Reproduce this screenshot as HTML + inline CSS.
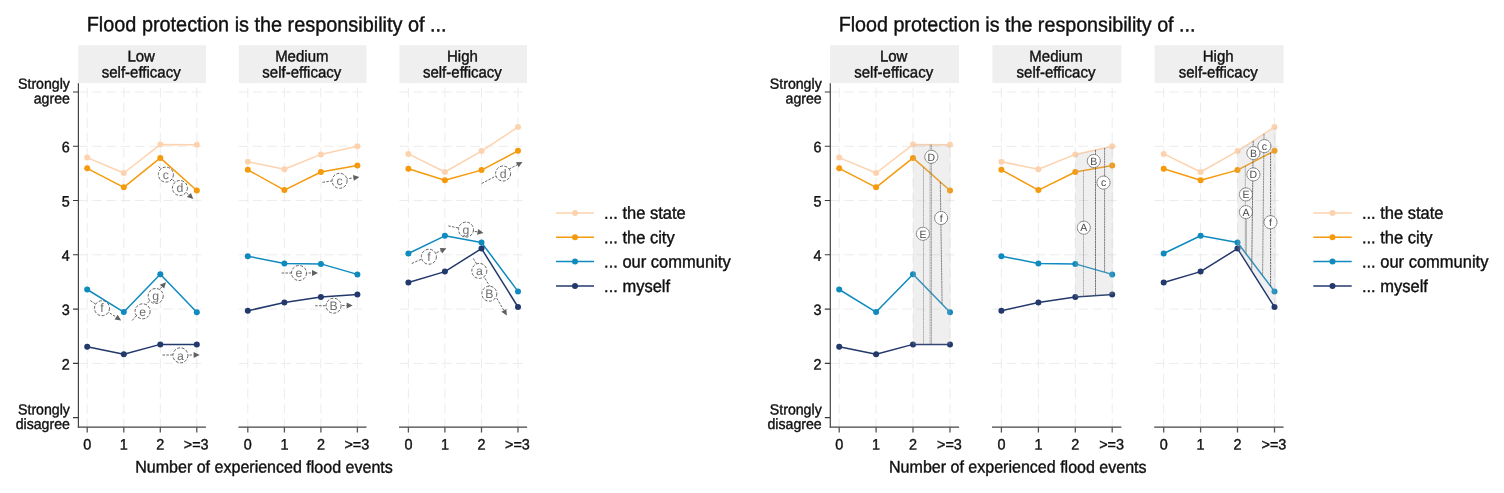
<!DOCTYPE html>
<html lang="en"><head><meta charset="utf-8"><title>Flood protection is the responsibility of ...</title>
<style>html,body{margin:0;padding:0;background:#fff}svg{display:block;font-family:'Liberation Sans', sans-serif}text{text-rendering:geometricPrecision}.c text{stroke:#101010;stroke-width:0.38px}</style>
</head><body>
<svg width="1504" height="493" viewBox="0 0 1504 493">
<rect width="1504" height="493" fill="#fff"/>
<g id="left">
<g class="c">
<text transform="translate(86.7 31.3) rotate(0.03) scale(1 1.05)" font-size="19.88" fill="#101010">Flood protection is the responsibility of ...</text>
<rect x="78.2" y="45.2" width="127.7" height="37.9" fill="#efefef"/>
<text transform="translate(141.2 61.6) rotate(0.03) scale(1 1.05)" font-size="15" text-anchor="middle" fill="#101010">Low</text>
<text transform="translate(141.2 77.6) rotate(0.03) scale(1 1.05)" font-size="15" text-anchor="middle" fill="#101010">self-efficacy</text>
<path d="M78.2 363.4H203.9M78.2 309.1H203.9M78.2 254.8H203.9M78.2 200.5H203.9M78.2 146.3H203.9M78.2 92.0H203.9" stroke="#ececec" stroke-width="1" stroke-dasharray="9.60 4.60" fill="none"/>
<path d="M87.2 87.5V427M123.8 87.5V427M160.3 87.5V427M196.8 87.5V427" stroke="#ececec" stroke-width="1" stroke-dasharray="10 5.05" fill="none"/>
<path d="M77.8 427.1H205.9" stroke="#444" stroke-width="1.2" fill="none"/>
<path d="M87.2 427V432.5M123.8 427V432.5M160.3 427V432.5M196.8 427V432.5" stroke="#555" stroke-width="1.3" fill="none"/>
<text transform="translate(87.2 449.4) rotate(0.03) scale(1 1.05)" font-size="14.4" text-anchor="middle" fill="#101010">0</text>
<text transform="translate(123.8 449.4) rotate(0.03) scale(1 1.05)" font-size="14.4" text-anchor="middle" fill="#101010">1</text>
<text transform="translate(160.3 449.4) rotate(0.03) scale(1 1.05)" font-size="14.4" text-anchor="middle" fill="#101010">2</text>
<text transform="translate(196.2 449.4) rotate(0.03) scale(1 1.05)" font-size="14.4" text-anchor="middle" fill="#101010">&gt;=3</text>
<rect x="238.8" y="45.2" width="127.7" height="37.9" fill="#efefef"/>
<text transform="translate(301.8 61.6) rotate(0.03) scale(1 1.05)" font-size="15" text-anchor="middle" fill="#101010">Medium</text>
<text transform="translate(301.8 77.6) rotate(0.03) scale(1 1.05)" font-size="15" text-anchor="middle" fill="#101010">self-efficacy</text>
<path d="M238.8 363.4H364.5M238.8 309.1H364.5M238.8 254.8H364.5M238.8 200.5H364.5M238.8 146.3H364.5M238.8 92.0H364.5" stroke="#ececec" stroke-width="1" stroke-dasharray="9.60 4.60" fill="none"/>
<path d="M247.8 87.5V427M284.4 87.5V427M320.9 87.5V427M357.4 87.5V427" stroke="#ececec" stroke-width="1" stroke-dasharray="10 5.05" fill="none"/>
<path d="M238.4 427.1H366.5" stroke="#444" stroke-width="1.2" fill="none"/>
<path d="M247.8 427V432.5M284.4 427V432.5M320.9 427V432.5M357.4 427V432.5" stroke="#555" stroke-width="1.3" fill="none"/>
<text transform="translate(247.8 449.4) rotate(0.03) scale(1 1.05)" font-size="14.4" text-anchor="middle" fill="#101010">0</text>
<text transform="translate(284.4 449.4) rotate(0.03) scale(1 1.05)" font-size="14.4" text-anchor="middle" fill="#101010">1</text>
<text transform="translate(320.9 449.4) rotate(0.03) scale(1 1.05)" font-size="14.4" text-anchor="middle" fill="#101010">2</text>
<text transform="translate(356.8 449.4) rotate(0.03) scale(1 1.05)" font-size="14.4" text-anchor="middle" fill="#101010">&gt;=3</text>
<rect x="399.4" y="45.2" width="127.7" height="37.9" fill="#efefef"/>
<text transform="translate(462.4 61.6) rotate(0.03) scale(1 1.05)" font-size="15" text-anchor="middle" fill="#101010">High</text>
<text transform="translate(462.4 77.6) rotate(0.03) scale(1 1.05)" font-size="15" text-anchor="middle" fill="#101010">self-efficacy</text>
<path d="M399.4 363.4H525.1M399.4 309.1H525.1M399.4 254.8H525.1M399.4 200.5H525.1M399.4 146.3H525.1M399.4 92.0H525.1" stroke="#ececec" stroke-width="1" stroke-dasharray="9.60 4.60" fill="none"/>
<path d="M408.4 87.5V427M444.9 87.5V427M481.5 87.5V427M518.0 87.5V427" stroke="#ececec" stroke-width="1" stroke-dasharray="10 5.05" fill="none"/>
<path d="M399.0 427.1H527.1" stroke="#444" stroke-width="1.2" fill="none"/>
<path d="M408.4 427V432.5M444.9 427V432.5M481.5 427V432.5M518.0 427V432.5" stroke="#555" stroke-width="1.3" fill="none"/>
<text transform="translate(408.4 449.4) rotate(0.03) scale(1 1.05)" font-size="14.4" text-anchor="middle" fill="#101010">0</text>
<text transform="translate(444.9 449.4) rotate(0.03) scale(1 1.05)" font-size="14.4" text-anchor="middle" fill="#101010">1</text>
<text transform="translate(481.5 449.4) rotate(0.03) scale(1 1.05)" font-size="14.4" text-anchor="middle" fill="#101010">2</text>
<text transform="translate(517.4 449.4) rotate(0.03) scale(1 1.05)" font-size="14.4" text-anchor="middle" fill="#101010">&gt;=3</text>
<path d="M78.4 83.2V427.4" stroke="#444" stroke-width="1.2" fill="none"/>
<path d="M73.0 417.6H78.3M73.0 363.4H78.3M73.0 309.1H78.3M73.0 254.8H78.3M73.0 200.5H78.3M73.0 146.3H78.3M73.0 92.0H78.3" stroke="#3a3a3a" stroke-width="1.1" fill="none"/>
<text transform="translate(69.8 369.4) rotate(0.03) scale(1 1.05)" font-size="14.4" text-anchor="end" fill="#101010">2</text>
<text transform="translate(69.8 315.1) rotate(0.03) scale(1 1.05)" font-size="14.4" text-anchor="end" fill="#101010">3</text>
<text transform="translate(69.8 260.8) rotate(0.03) scale(1 1.05)" font-size="14.4" text-anchor="end" fill="#101010">4</text>
<text transform="translate(69.8 206.5) rotate(0.03) scale(1 1.05)" font-size="14.4" text-anchor="end" fill="#101010">5</text>
<text transform="translate(69.8 152.3) rotate(0.03) scale(1 1.05)" font-size="14.4" text-anchor="end" fill="#101010">6</text>
<text transform="translate(69.9 88.7) rotate(0.03) scale(1 1.05)" font-size="14.15" text-anchor="end" fill="#101010">Strongly</text>
<text transform="translate(69.9 103.4) rotate(0.03) scale(1 1.05)" font-size="14.15" text-anchor="end" fill="#101010">agree</text>
<text transform="translate(69.9 414.6) rotate(0.03) scale(1 1.05)" font-size="14.15" text-anchor="end" fill="#101010">Strongly</text>
<text transform="translate(69.9 429.0) rotate(0.03) scale(1 1.05)" font-size="14.15" text-anchor="end" fill="#101010">disagree</text>
<text transform="translate(264.0 472.6) rotate(0.03) scale(1 1.05)" font-size="16.05" text-anchor="middle" fill="#101010">Number of experienced flood events</text>
<path d="M87.2 157.6L123.8 173.0L160.3 144.6L196.8 144.8" stroke="#fdd3af" stroke-width="1.5" fill="none" stroke-linejoin="round"/>
<circle cx="87.2" cy="157.6" r="3.0" fill="#fdd3af"/>
<circle cx="123.8" cy="173.0" r="3.0" fill="#fdd3af"/>
<circle cx="160.3" cy="144.6" r="3.0" fill="#fdd3af"/>
<circle cx="196.8" cy="144.8" r="3.0" fill="#fdd3af"/>
<path d="M87.2 168.3L123.8 187.3L160.3 157.9L196.8 190.5" stroke="#f59a0c" stroke-width="1.5" fill="none" stroke-linejoin="round"/>
<circle cx="87.2" cy="168.3" r="3.0" fill="#f59a0c"/>
<circle cx="123.8" cy="187.3" r="3.0" fill="#f59a0c"/>
<circle cx="160.3" cy="157.9" r="3.0" fill="#f59a0c"/>
<circle cx="196.8" cy="190.5" r="3.0" fill="#f59a0c"/>
<path d="M87.2 289.5L123.8 312.1L160.3 274.3L196.8 312.3" stroke="#0f8abf" stroke-width="1.5" fill="none" stroke-linejoin="round"/>
<circle cx="87.2" cy="289.5" r="3.0" fill="#0f8abf"/>
<circle cx="123.8" cy="312.1" r="3.0" fill="#0f8abf"/>
<circle cx="160.3" cy="274.3" r="3.0" fill="#0f8abf"/>
<circle cx="196.8" cy="312.3" r="3.0" fill="#0f8abf"/>
<path d="M87.2 346.7L123.8 354.3L160.3 344.4L196.8 344.4" stroke="#23386b" stroke-width="1.5" fill="none" stroke-linejoin="round"/>
<circle cx="87.2" cy="346.7" r="3.0" fill="#23386b"/>
<circle cx="123.8" cy="354.3" r="3.0" fill="#23386b"/>
<circle cx="160.3" cy="344.4" r="3.0" fill="#23386b"/>
<circle cx="196.8" cy="344.4" r="3.0" fill="#23386b"/>
<path d="M247.8 161.7L284.4 169.3L320.9 154.4L357.4 146.2" stroke="#fdd3af" stroke-width="1.5" fill="none" stroke-linejoin="round"/>
<circle cx="247.8" cy="161.7" r="3.0" fill="#fdd3af"/>
<circle cx="284.4" cy="169.3" r="3.0" fill="#fdd3af"/>
<circle cx="320.9" cy="154.4" r="3.0" fill="#fdd3af"/>
<circle cx="357.4" cy="146.2" r="3.0" fill="#fdd3af"/>
<path d="M247.8 169.8L284.4 190.1L320.9 172.0L357.4 165.4" stroke="#f59a0c" stroke-width="1.5" fill="none" stroke-linejoin="round"/>
<circle cx="247.8" cy="169.8" r="3.0" fill="#f59a0c"/>
<circle cx="284.4" cy="190.1" r="3.0" fill="#f59a0c"/>
<circle cx="320.9" cy="172.0" r="3.0" fill="#f59a0c"/>
<circle cx="357.4" cy="165.4" r="3.0" fill="#f59a0c"/>
<path d="M247.8 256.2L284.4 263.5L320.9 263.9L357.4 274.4" stroke="#0f8abf" stroke-width="1.5" fill="none" stroke-linejoin="round"/>
<circle cx="247.8" cy="256.2" r="3.0" fill="#0f8abf"/>
<circle cx="284.4" cy="263.5" r="3.0" fill="#0f8abf"/>
<circle cx="320.9" cy="263.9" r="3.0" fill="#0f8abf"/>
<circle cx="357.4" cy="274.4" r="3.0" fill="#0f8abf"/>
<path d="M247.8 310.8L284.4 302.5L320.9 297.0L357.4 294.5" stroke="#23386b" stroke-width="1.5" fill="none" stroke-linejoin="round"/>
<circle cx="247.8" cy="310.8" r="3.0" fill="#23386b"/>
<circle cx="284.4" cy="302.5" r="3.0" fill="#23386b"/>
<circle cx="320.9" cy="297.0" r="3.0" fill="#23386b"/>
<circle cx="357.4" cy="294.5" r="3.0" fill="#23386b"/>
<path d="M408.4 153.9L444.9 172.0L481.5 151.1L518.0 127.1" stroke="#fdd3af" stroke-width="1.5" fill="none" stroke-linejoin="round"/>
<circle cx="408.4" cy="153.9" r="3.0" fill="#fdd3af"/>
<circle cx="444.9" cy="172.0" r="3.0" fill="#fdd3af"/>
<circle cx="481.5" cy="151.1" r="3.0" fill="#fdd3af"/>
<circle cx="518.0" cy="127.1" r="3.0" fill="#fdd3af"/>
<path d="M408.4 168.7L444.9 180.3L481.5 170.1L518.0 150.8" stroke="#f59a0c" stroke-width="1.5" fill="none" stroke-linejoin="round"/>
<circle cx="408.4" cy="168.7" r="3.0" fill="#f59a0c"/>
<circle cx="444.9" cy="180.3" r="3.0" fill="#f59a0c"/>
<circle cx="481.5" cy="170.1" r="3.0" fill="#f59a0c"/>
<circle cx="518.0" cy="150.8" r="3.0" fill="#f59a0c"/>
<path d="M408.4 253.5L444.9 235.8L481.5 242.5L518.0 291.4" stroke="#0f8abf" stroke-width="1.5" fill="none" stroke-linejoin="round"/>
<circle cx="408.4" cy="253.5" r="3.0" fill="#0f8abf"/>
<circle cx="444.9" cy="235.8" r="3.0" fill="#0f8abf"/>
<circle cx="481.5" cy="242.5" r="3.0" fill="#0f8abf"/>
<circle cx="518.0" cy="291.4" r="3.0" fill="#0f8abf"/>
<path d="M408.4 282.5L444.9 271.6L481.5 248.6L518.0 307.0" stroke="#23386b" stroke-width="1.5" fill="none" stroke-linejoin="round"/>
<circle cx="408.4" cy="282.5" r="3.0" fill="#23386b"/>
<circle cx="444.9" cy="271.6" r="3.0" fill="#23386b"/>
<circle cx="481.5" cy="248.6" r="3.0" fill="#23386b"/>
<circle cx="518.0" cy="307.0" r="3.0" fill="#23386b"/>
<path d="M556.0 212.9H594.0" stroke="#fdd3af" stroke-width="1.5"/>
<circle cx="575.0" cy="212.9" r="3.0" fill="#fdd3af"/>
<text transform="translate(604.1 218.8) rotate(0.03) scale(1 1.05)" font-size="16.5" fill="#101010">... the state</text>
<path d="M556.0 237.2H594.0" stroke="#f59a0c" stroke-width="1.5"/>
<circle cx="575.0" cy="237.2" r="3.0" fill="#f59a0c"/>
<text transform="translate(604.1 243.2) rotate(0.03) scale(1 1.05)" font-size="16.5" fill="#101010">... the city</text>
<path d="M556.0 261.6H594.0" stroke="#0f8abf" stroke-width="1.5"/>
<circle cx="575.0" cy="261.6" r="3.0" fill="#0f8abf"/>
<text transform="translate(604.1 267.5) rotate(0.03) scale(1 1.05)" font-size="16.5" fill="#101010">... our community</text>
<path d="M556.0 286.0H594.0" stroke="#23386b" stroke-width="1.5"/>
<circle cx="575.0" cy="286.0" r="3.0" fill="#23386b"/>
<text transform="translate(604.1 291.9) rotate(0.03) scale(1 1.05)" font-size="16.5" fill="#101010">... myself</text>
</g>
<path d="M158.5 166.5L188.9 195.0" stroke="#555" stroke-width="0.9" stroke-dasharray="2.5 1.35" fill="none"/>
<path d="M193.3 199.1L186.9 197.1L190.9 192.9Z" fill="#606060"/>
<circle cx="165.9" cy="174.6" r="7.5" fill="#fff" stroke="#626262" stroke-width="1" stroke-dasharray="3 1.55"/>
<text x="165.9" y="178.8" font-size="12.3" text-anchor="middle" fill="#707070">c</text>
<circle cx="179.9" cy="188.0" r="7.5" fill="#fff" stroke="#626262" stroke-width="1" stroke-dasharray="3 1.55"/>
<text x="179.9" y="192.2" font-size="12.3" text-anchor="middle" fill="#707070">d</text>
<path d="M90.3 300.6L116.1 317.1" stroke="#555" stroke-width="0.9" stroke-dasharray="2.5 1.35" fill="none"/>
<path d="M121.2 320.4L114.6 319.6L117.7 314.7Z" fill="#606060"/>
<circle cx="102.0" cy="308.2" r="7.5" fill="#fff" stroke="#626262" stroke-width="1" stroke-dasharray="3 1.55"/>
<text x="102.0" y="312.4" font-size="12.3" text-anchor="middle" fill="#707070">f</text>
<path d="M132.2 320.5L162.0 286.7" stroke="#555" stroke-width="0.9" stroke-dasharray="2.5 1.35" fill="none"/>
<path d="M166.0 282.2L164.2 288.6L159.8 284.8Z" fill="#606060"/>
<circle cx="142.6" cy="311.3" r="7.5" fill="#fff" stroke="#626262" stroke-width="1" stroke-dasharray="3 1.55"/>
<text x="142.6" y="315.5" font-size="12.3" text-anchor="middle" fill="#707070">e</text>
<circle cx="155.7" cy="296.0" r="7.5" fill="#fff" stroke="#626262" stroke-width="1" stroke-dasharray="3 1.55"/>
<text x="155.7" y="300.2" font-size="12.3" text-anchor="middle" fill="#707070">g</text>
<path d="M162.5 355.0L193.7 355.0" stroke="#555" stroke-width="0.9" stroke-dasharray="2.5 1.35" fill="none"/>
<path d="M199.7 355.0L193.7 357.9L193.7 352.1Z" fill="#606060"/>
<circle cx="180.4" cy="355.3" r="7.5" fill="#fff" stroke="#626262" stroke-width="1" stroke-dasharray="3 1.55"/>
<text x="180.4" y="359.5" font-size="12.3" text-anchor="middle" fill="#707070">a</text>
<path d="M322.5 182.3L353.5 177.9" stroke="#555" stroke-width="0.9" stroke-dasharray="2.5 1.35" fill="none"/>
<path d="M359.4 177.0L353.9 180.7L353.0 175.0Z" fill="#606060"/>
<circle cx="339.6" cy="180.8" r="7.5" fill="#fff" stroke="#626262" stroke-width="1" stroke-dasharray="3 1.55"/>
<text x="339.6" y="185.0" font-size="12.3" text-anchor="middle" fill="#707070">c</text>
<path d="M281.6 273.0L312.0 273.0" stroke="#555" stroke-width="0.9" stroke-dasharray="2.5 1.35" fill="none"/>
<path d="M318.0 273.0L312.0 275.9L312.0 270.1Z" fill="#606060"/>
<circle cx="299.0" cy="273.0" r="7.5" fill="#fff" stroke="#626262" stroke-width="1" stroke-dasharray="3 1.55"/>
<text x="299.0" y="277.2" font-size="12.3" text-anchor="middle" fill="#707070">e</text>
<path d="M315.2 305.8L346.7 305.5" stroke="#555" stroke-width="0.9" stroke-dasharray="2.5 1.35" fill="none"/>
<path d="M352.7 305.4L346.7 308.4L346.7 302.6Z" fill="#606060"/>
<circle cx="333.6" cy="305.7" r="7.5" fill="#fff" stroke="#626262" stroke-width="1" stroke-dasharray="3 1.55"/>
<text x="333.6" y="309.9" font-size="12.3" text-anchor="middle" fill="#707070">B</text>
<path d="M481.7 183.5L517.2 164.8" stroke="#555" stroke-width="0.9" stroke-dasharray="2.5 1.35" fill="none"/>
<path d="M522.5 162.0L518.6 167.3L515.9 162.2Z" fill="#606060"/>
<circle cx="503.1" cy="173.5" r="7.5" fill="#fff" stroke="#626262" stroke-width="1" stroke-dasharray="3 1.55"/>
<text x="503.1" y="177.7" font-size="12.3" text-anchor="middle" fill="#707070">d</text>
<path d="M448.3 225.9L477.6 231.9" stroke="#555" stroke-width="0.9" stroke-dasharray="2.5 1.35" fill="none"/>
<path d="M483.5 233.1L477.0 234.8L478.2 229.1Z" fill="#606060"/>
<circle cx="466.0" cy="229.6" r="7.5" fill="#fff" stroke="#626262" stroke-width="1" stroke-dasharray="3 1.55"/>
<text x="466.0" y="233.8" font-size="12.3" text-anchor="middle" fill="#707070">g</text>
<path d="M411.7 263.5L440.9 250.7" stroke="#555" stroke-width="0.9" stroke-dasharray="2.5 1.35" fill="none"/>
<path d="M446.4 248.3L442.1 253.4L439.8 248.1Z" fill="#606060"/>
<circle cx="428.9" cy="256.7" r="7.5" fill="#fff" stroke="#626262" stroke-width="1" stroke-dasharray="3 1.55"/>
<text x="428.9" y="260.9" font-size="12.3" text-anchor="middle" fill="#707070">f</text>
<path d="M473.3 258.4L503.8 310.3" stroke="#555" stroke-width="0.9" stroke-dasharray="2.5 1.35" fill="none"/>
<path d="M506.9 315.5L501.3 311.8L506.3 308.9Z" fill="#606060"/>
<circle cx="479.3" cy="270.9" r="7.5" fill="#fff" stroke="#626262" stroke-width="1" stroke-dasharray="3 1.55"/>
<text x="479.3" y="275.1" font-size="12.3" text-anchor="middle" fill="#707070">a</text>
<circle cx="489.3" cy="293.7" r="7.5" fill="#fff" stroke="#626262" stroke-width="1" stroke-dasharray="3 1.55"/>
<text x="489.3" y="297.9" font-size="12.3" text-anchor="middle" fill="#707070">B</text>
</g>
<g id="right" class="c">
<text transform="translate(838.7 31.3) rotate(0.03) scale(1 1.05)" font-size="19.7" fill="#101010">Flood protection is the responsibility of ...</text>
<rect x="830.1" y="45.2" width="129.0" height="37.9" fill="#efefef"/>
<text transform="translate(893.7 61.6) rotate(0.03) scale(1 1.05)" font-size="15" text-anchor="middle" fill="#101010">Low</text>
<text transform="translate(893.7 77.6) rotate(0.03) scale(1 1.05)" font-size="15" text-anchor="middle" fill="#101010">self-efficacy</text>
<path d="M830.1 363.4H957.1M830.1 309.1H957.1M830.1 254.8H957.1M830.1 200.5H957.1M830.1 146.3H957.1M830.1 92.0H957.1" stroke="#ececec" stroke-width="1" stroke-dasharray="9.70 4.65" fill="none"/>
<path d="M839.2 87.5V427M876.1 87.5V427M913.0 87.5V427M950.0 87.5V427" stroke="#ececec" stroke-width="1" stroke-dasharray="10 5.05" fill="none"/>
<path d="M829.7 427.1H959.1" stroke="#444" stroke-width="1.2" fill="none"/>
<path d="M839.2 427V432.5M876.1 427V432.5M913.0 427V432.5M950.0 427V432.5" stroke="#555" stroke-width="1.3" fill="none"/>
<text transform="translate(839.2 449.4) rotate(0.03) scale(1 1.05)" font-size="14.4" text-anchor="middle" fill="#101010">0</text>
<text transform="translate(876.1 449.4) rotate(0.03) scale(1 1.05)" font-size="14.4" text-anchor="middle" fill="#101010">1</text>
<text transform="translate(913.0 449.4) rotate(0.03) scale(1 1.05)" font-size="14.4" text-anchor="middle" fill="#101010">2</text>
<text transform="translate(949.4 449.4) rotate(0.03) scale(1 1.05)" font-size="14.4" text-anchor="middle" fill="#101010">&gt;=3</text>
<rect x="992.4" y="45.2" width="129.0" height="37.9" fill="#efefef"/>
<text transform="translate(1056.0 61.6) rotate(0.03) scale(1 1.05)" font-size="15" text-anchor="middle" fill="#101010">Medium</text>
<text transform="translate(1056.0 77.6) rotate(0.03) scale(1 1.05)" font-size="15" text-anchor="middle" fill="#101010">self-efficacy</text>
<path d="M992.4 363.4H1119.4M992.4 309.1H1119.4M992.4 254.8H1119.4M992.4 200.5H1119.4M992.4 146.3H1119.4M992.4 92.0H1119.4" stroke="#ececec" stroke-width="1" stroke-dasharray="9.70 4.65" fill="none"/>
<path d="M1001.4 87.5V427M1038.4 87.5V427M1075.3 87.5V427M1112.2 87.5V427" stroke="#ececec" stroke-width="1" stroke-dasharray="10 5.05" fill="none"/>
<path d="M992.0 427.1H1121.4" stroke="#444" stroke-width="1.2" fill="none"/>
<path d="M1001.4 427V432.5M1038.4 427V432.5M1075.3 427V432.5M1112.2 427V432.5" stroke="#555" stroke-width="1.3" fill="none"/>
<text transform="translate(1001.4 449.4) rotate(0.03) scale(1 1.05)" font-size="14.4" text-anchor="middle" fill="#101010">0</text>
<text transform="translate(1038.4 449.4) rotate(0.03) scale(1 1.05)" font-size="14.4" text-anchor="middle" fill="#101010">1</text>
<text transform="translate(1075.3 449.4) rotate(0.03) scale(1 1.05)" font-size="14.4" text-anchor="middle" fill="#101010">2</text>
<text transform="translate(1111.6 449.4) rotate(0.03) scale(1 1.05)" font-size="14.4" text-anchor="middle" fill="#101010">&gt;=3</text>
<rect x="1154.6" y="45.2" width="129.0" height="37.9" fill="#efefef"/>
<text transform="translate(1218.2 61.6) rotate(0.03) scale(1 1.05)" font-size="15" text-anchor="middle" fill="#101010">High</text>
<text transform="translate(1218.2 77.6) rotate(0.03) scale(1 1.05)" font-size="15" text-anchor="middle" fill="#101010">self-efficacy</text>
<path d="M1154.6 363.4H1281.6M1154.6 309.1H1281.6M1154.6 254.8H1281.6M1154.6 200.5H1281.6M1154.6 146.3H1281.6M1154.6 92.0H1281.6" stroke="#ececec" stroke-width="1" stroke-dasharray="9.70 4.65" fill="none"/>
<path d="M1163.7 87.5V427M1200.6 87.5V427M1237.5 87.5V427M1274.5 87.5V427" stroke="#ececec" stroke-width="1" stroke-dasharray="10 5.05" fill="none"/>
<path d="M1154.2 427.1H1283.6" stroke="#444" stroke-width="1.2" fill="none"/>
<path d="M1163.7 427V432.5M1200.6 427V432.5M1237.5 427V432.5M1274.5 427V432.5" stroke="#555" stroke-width="1.3" fill="none"/>
<text transform="translate(1163.7 449.4) rotate(0.03) scale(1 1.05)" font-size="14.4" text-anchor="middle" fill="#101010">0</text>
<text transform="translate(1200.6 449.4) rotate(0.03) scale(1 1.05)" font-size="14.4" text-anchor="middle" fill="#101010">1</text>
<text transform="translate(1237.5 449.4) rotate(0.03) scale(1 1.05)" font-size="14.4" text-anchor="middle" fill="#101010">2</text>
<text transform="translate(1273.9 449.4) rotate(0.03) scale(1 1.05)" font-size="14.4" text-anchor="middle" fill="#101010">&gt;=3</text>
<path d="M830.3 83.2V427.4" stroke="#444" stroke-width="1.2" fill="none"/>
<path d="M824.8 417.6H830.2M824.8 363.4H830.2M824.8 309.1H830.2M824.8 254.8H830.2M824.8 200.5H830.2M824.8 146.3H830.2M824.8 92.0H830.2" stroke="#3a3a3a" stroke-width="1.1" fill="none"/>
<text transform="translate(821.6 369.4) rotate(0.03) scale(1 1.05)" font-size="14.4" text-anchor="end" fill="#101010">2</text>
<text transform="translate(821.6 315.1) rotate(0.03) scale(1 1.05)" font-size="14.4" text-anchor="end" fill="#101010">3</text>
<text transform="translate(821.6 260.8) rotate(0.03) scale(1 1.05)" font-size="14.4" text-anchor="end" fill="#101010">4</text>
<text transform="translate(821.6 206.5) rotate(0.03) scale(1 1.05)" font-size="14.4" text-anchor="end" fill="#101010">5</text>
<text transform="translate(821.6 152.3) rotate(0.03) scale(1 1.05)" font-size="14.4" text-anchor="end" fill="#101010">6</text>
<text transform="translate(821.7 88.7) rotate(0.03) scale(1 1.05)" font-size="14.15" text-anchor="end" fill="#101010">Strongly</text>
<text transform="translate(821.7 103.4) rotate(0.03) scale(1 1.05)" font-size="14.15" text-anchor="end" fill="#101010">agree</text>
<text transform="translate(821.7 414.6) rotate(0.03) scale(1 1.05)" font-size="14.15" text-anchor="end" fill="#101010">Strongly</text>
<text transform="translate(821.7 429.0) rotate(0.03) scale(1 1.05)" font-size="14.15" text-anchor="end" fill="#101010">disagree</text>
<text transform="translate(1017.8 472.6) rotate(0.03) scale(1 1.05)" font-size="16.05" text-anchor="middle" fill="#101010">Number of experienced flood events</text>
<path d="M839.2 157.6L876.1 173.0L913.0 144.6L950.0 144.8" stroke="#fdd3af" stroke-width="1.5" fill="none" stroke-linejoin="round"/>
<circle cx="839.2" cy="157.6" r="3.0" fill="#fdd3af"/>
<circle cx="876.1" cy="173.0" r="3.0" fill="#fdd3af"/>
<circle cx="913.0" cy="144.6" r="3.0" fill="#fdd3af"/>
<circle cx="950.0" cy="144.8" r="3.0" fill="#fdd3af"/>
<path d="M839.2 168.3L876.1 187.3L913.0 157.9L950.0 190.5" stroke="#f59a0c" stroke-width="1.5" fill="none" stroke-linejoin="round"/>
<circle cx="839.2" cy="168.3" r="3.0" fill="#f59a0c"/>
<circle cx="876.1" cy="187.3" r="3.0" fill="#f59a0c"/>
<circle cx="913.0" cy="157.9" r="3.0" fill="#f59a0c"/>
<circle cx="950.0" cy="190.5" r="3.0" fill="#f59a0c"/>
<path d="M839.2 289.5L876.1 312.1L913.0 274.3L950.0 312.3" stroke="#0f8abf" stroke-width="1.5" fill="none" stroke-linejoin="round"/>
<circle cx="839.2" cy="289.5" r="3.0" fill="#0f8abf"/>
<circle cx="876.1" cy="312.1" r="3.0" fill="#0f8abf"/>
<circle cx="913.0" cy="274.3" r="3.0" fill="#0f8abf"/>
<circle cx="950.0" cy="312.3" r="3.0" fill="#0f8abf"/>
<path d="M839.2 346.7L876.1 354.3L913.0 344.4L950.0 344.4" stroke="#23386b" stroke-width="1.5" fill="none" stroke-linejoin="round"/>
<circle cx="839.2" cy="346.7" r="3.0" fill="#23386b"/>
<circle cx="876.1" cy="354.3" r="3.0" fill="#23386b"/>
<circle cx="913.0" cy="344.4" r="3.0" fill="#23386b"/>
<circle cx="950.0" cy="344.4" r="3.0" fill="#23386b"/>
<path d="M1001.4 161.7L1038.4 169.3L1075.3 154.4L1112.2 146.2" stroke="#fdd3af" stroke-width="1.5" fill="none" stroke-linejoin="round"/>
<circle cx="1001.4" cy="161.7" r="3.0" fill="#fdd3af"/>
<circle cx="1038.4" cy="169.3" r="3.0" fill="#fdd3af"/>
<circle cx="1075.3" cy="154.4" r="3.0" fill="#fdd3af"/>
<circle cx="1112.2" cy="146.2" r="3.0" fill="#fdd3af"/>
<path d="M1001.4 169.8L1038.4 190.1L1075.3 172.0L1112.2 165.4" stroke="#f59a0c" stroke-width="1.5" fill="none" stroke-linejoin="round"/>
<circle cx="1001.4" cy="169.8" r="3.0" fill="#f59a0c"/>
<circle cx="1038.4" cy="190.1" r="3.0" fill="#f59a0c"/>
<circle cx="1075.3" cy="172.0" r="3.0" fill="#f59a0c"/>
<circle cx="1112.2" cy="165.4" r="3.0" fill="#f59a0c"/>
<path d="M1001.4 256.2L1038.4 263.5L1075.3 263.9L1112.2 274.4" stroke="#0f8abf" stroke-width="1.5" fill="none" stroke-linejoin="round"/>
<circle cx="1001.4" cy="256.2" r="3.0" fill="#0f8abf"/>
<circle cx="1038.4" cy="263.5" r="3.0" fill="#0f8abf"/>
<circle cx="1075.3" cy="263.9" r="3.0" fill="#0f8abf"/>
<circle cx="1112.2" cy="274.4" r="3.0" fill="#0f8abf"/>
<path d="M1001.4 310.8L1038.4 302.5L1075.3 297.0L1112.2 294.5" stroke="#23386b" stroke-width="1.5" fill="none" stroke-linejoin="round"/>
<circle cx="1001.4" cy="310.8" r="3.0" fill="#23386b"/>
<circle cx="1038.4" cy="302.5" r="3.0" fill="#23386b"/>
<circle cx="1075.3" cy="297.0" r="3.0" fill="#23386b"/>
<circle cx="1112.2" cy="294.5" r="3.0" fill="#23386b"/>
<path d="M1163.7 153.9L1200.6 172.0L1237.5 151.1L1274.5 127.1" stroke="#fdd3af" stroke-width="1.5" fill="none" stroke-linejoin="round"/>
<circle cx="1163.7" cy="153.9" r="3.0" fill="#fdd3af"/>
<circle cx="1200.6" cy="172.0" r="3.0" fill="#fdd3af"/>
<circle cx="1237.5" cy="151.1" r="3.0" fill="#fdd3af"/>
<circle cx="1274.5" cy="127.1" r="3.0" fill="#fdd3af"/>
<path d="M1163.7 168.7L1200.6 180.3L1237.5 170.1L1274.5 150.8" stroke="#f59a0c" stroke-width="1.5" fill="none" stroke-linejoin="round"/>
<circle cx="1163.7" cy="168.7" r="3.0" fill="#f59a0c"/>
<circle cx="1200.6" cy="180.3" r="3.0" fill="#f59a0c"/>
<circle cx="1237.5" cy="170.1" r="3.0" fill="#f59a0c"/>
<circle cx="1274.5" cy="150.8" r="3.0" fill="#f59a0c"/>
<path d="M1163.7 253.5L1200.6 235.8L1237.5 242.5L1274.5 291.4" stroke="#0f8abf" stroke-width="1.5" fill="none" stroke-linejoin="round"/>
<circle cx="1163.7" cy="253.5" r="3.0" fill="#0f8abf"/>
<circle cx="1200.6" cy="235.8" r="3.0" fill="#0f8abf"/>
<circle cx="1237.5" cy="242.5" r="3.0" fill="#0f8abf"/>
<circle cx="1274.5" cy="291.4" r="3.0" fill="#0f8abf"/>
<path d="M1163.7 282.5L1200.6 271.6L1237.5 248.6L1274.5 307.0" stroke="#23386b" stroke-width="1.5" fill="none" stroke-linejoin="round"/>
<circle cx="1163.7" cy="282.5" r="3.0" fill="#23386b"/>
<circle cx="1200.6" cy="271.6" r="3.0" fill="#23386b"/>
<circle cx="1237.5" cy="248.6" r="3.0" fill="#23386b"/>
<circle cx="1274.5" cy="307.0" r="3.0" fill="#23386b"/>
<path d="M1313.3 212.9H1351.7" stroke="#fdd3af" stroke-width="1.5"/>
<circle cx="1332.5" cy="212.9" r="3.0" fill="#fdd3af"/>
<text transform="translate(1361.9 218.8) rotate(0.03) scale(1 1.05)" font-size="16.5" fill="#101010">... the state</text>
<path d="M1313.3 237.2H1351.7" stroke="#f59a0c" stroke-width="1.5"/>
<circle cx="1332.5" cy="237.2" r="3.0" fill="#f59a0c"/>
<text transform="translate(1361.9 243.2) rotate(0.03) scale(1 1.05)" font-size="16.5" fill="#101010">... the city</text>
<path d="M1313.3 261.6H1351.7" stroke="#0f8abf" stroke-width="1.5"/>
<circle cx="1332.5" cy="261.6" r="3.0" fill="#0f8abf"/>
<text transform="translate(1361.9 267.5) rotate(0.03) scale(1 1.05)" font-size="16.5" fill="#101010">... our community</text>
<path d="M1313.3 286.0H1351.7" stroke="#23386b" stroke-width="1.5"/>
<circle cx="1332.5" cy="286.0" r="3.0" fill="#23386b"/>
<text transform="translate(1361.9 291.9) rotate(0.03) scale(1 1.05)" font-size="16.5" fill="#101010">... myself</text>
</g>
<g id="right-ann">
<path d="M912.9 144.6L950.5 144.8L950.5 344.4L912.9 344.4Z" fill="#b4b4b4" fill-opacity="0.22"/>
<path d="M1075.2 154.4L1113.3 146.2L1113.3 294.5L1075.2 297.0Z" fill="#b4b4b4" fill-opacity="0.22"/>
<path d="M1237.4 151.1L1276.3 127.1L1276.3 307.0L1237.4 248.6Z" fill="#b4b4b4" fill-opacity="0.22"/>
<path d="M923.5 167.1L923.5 344.4" stroke="#777" stroke-width="0.5" stroke-dasharray="2.2 0.4" fill="none"/>
<path d="M930.1 144.7L930.1 344.4" stroke="#555" stroke-width="0.45" stroke-dasharray="2.2 0.4" fill="none"/>
<path d="M931.5 144.7L931.5 344.4" stroke="#555" stroke-width="0.45" stroke-dasharray="2.2 0.4" fill="none"/>
<path d="M940.3 182.0L942.1 304.2" stroke="#555" stroke-width="0.7" stroke-dasharray="2.2 0.4" fill="none"/>
<circle cx="931.3" cy="156.8" r="6.5" fill="#fff" stroke="#555" stroke-width="0.8" stroke-dasharray="2 0.35"/><text x="931.3" y="160.5" font-size="10.5" text-anchor="middle" fill="#4a4a4a">D</text>
<circle cx="922.9" cy="233.8" r="6.5" fill="#fff" stroke="#555" stroke-width="0.8" stroke-dasharray="2 0.35"/><text x="922.9" y="237.5" font-size="10.5" text-anchor="middle" fill="#4a4a4a">E</text>
<circle cx="941.1" cy="218.0" r="6.5" fill="#fff" stroke="#555" stroke-width="0.8" stroke-dasharray="2 0.35"/><text x="941.1" y="221.7" font-size="10.5" text-anchor="middle" fill="#4a4a4a">f</text>
<path d="M1083.5 170.5L1083.5 296.4" stroke="#777" stroke-width="0.5" stroke-dasharray="2.2 0.4" fill="none"/>
<path d="M1095.5 149.9L1095.5 295.6" stroke="#555" stroke-width="0.8" stroke-dasharray="2.2 0.4" fill="none"/>
<path d="M1104.6 147.9L1104.6 272.2" stroke="#777" stroke-width="0.9" stroke-dasharray="2.2 0.4" fill="none"/>
<circle cx="1093.8" cy="161.0" r="6.5" fill="#fff" stroke="#555" stroke-width="0.8" stroke-dasharray="2 0.35"/><text x="1093.8" y="164.7" font-size="10.5" text-anchor="middle" fill="#4a4a4a">B</text>
<circle cx="1103.5" cy="182.6" r="6.5" fill="#fff" stroke="#555" stroke-width="0.8" stroke-dasharray="2 0.35"/><text x="1103.5" y="186.3" font-size="10.5" text-anchor="middle" fill="#4a4a4a">c</text>
<circle cx="1083.8" cy="227.7" r="6.5" fill="#fff" stroke="#555" stroke-width="0.8" stroke-dasharray="2 0.35"/><text x="1083.8" y="231.4" font-size="10.5" text-anchor="middle" fill="#4a4a4a">A</text>
<path d="M1245.3 166.0L1245.3 252.8" stroke="#777" stroke-width="0.55" stroke-dasharray="2.2 0.4" fill="none"/>
<path d="M1246.3 218.5V254.1" stroke="#666" stroke-width="0.5" fill="none"/>
<path d="M1253.2 140.9L1251.7 271.0" stroke="#555" stroke-width="0.8" stroke-dasharray="2.2 0.4" fill="none"/>
<path d="M1264.0 133.9L1262.6 275.7" stroke="#666" stroke-width="0.7" stroke-dasharray="2.2 0.4" fill="none"/>
<path d="M1270.6 152.8L1270.6 286.3" stroke="#444" stroke-width="0.8" stroke-dasharray="2 0.8" fill="none"/>
<circle cx="1253.4" cy="153.0" r="6.5" fill="#fff" stroke="#555" stroke-width="0.8" stroke-dasharray="2 0.35"/><text x="1253.4" y="156.7" font-size="10.5" text-anchor="middle" fill="#4a4a4a">B</text>
<circle cx="1264.4" cy="146.1" r="6.5" fill="#fff" stroke="#555" stroke-width="0.8" stroke-dasharray="2 0.35"/><text x="1264.4" y="149.8" font-size="10.5" text-anchor="middle" fill="#4a4a4a">c</text>
<circle cx="1253.4" cy="174.4" r="6.5" fill="#fff" stroke="#555" stroke-width="0.8" stroke-dasharray="2 0.35"/><text x="1253.4" y="178.1" font-size="10.5" text-anchor="middle" fill="#4a4a4a">D</text>
<circle cx="1245.9" cy="194.4" r="6.5" fill="#fff" stroke="#555" stroke-width="0.8" stroke-dasharray="2 0.35"/><text x="1245.9" y="198.1" font-size="10.5" text-anchor="middle" fill="#4a4a4a">E</text>
<circle cx="1245.9" cy="212.1" r="6.5" fill="#fff" stroke="#555" stroke-width="0.8" stroke-dasharray="2 0.35"/><text x="1245.9" y="215.8" font-size="10.5" text-anchor="middle" fill="#4a4a4a">A</text>
<circle cx="1270.5" cy="222.2" r="6.5" fill="#fff" stroke="#555" stroke-width="0.8" stroke-dasharray="2 0.35"/><text x="1270.5" y="225.9" font-size="10.5" text-anchor="middle" fill="#4a4a4a">f</text>
</g>
</svg>
</body></html>
